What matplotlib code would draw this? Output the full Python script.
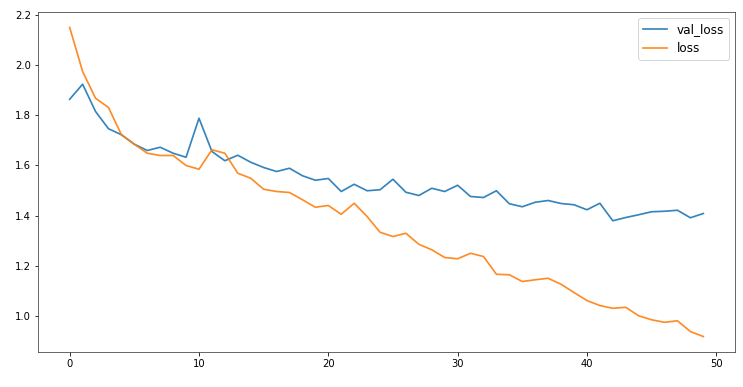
import numpy as np
import matplotlib
matplotlib.use("Agg")
import matplotlib.pyplot as plt

# training history
epochs = np.arange(50)

val_loss = [1.865, 1.925, 1.816, 1.747, 1.723, 1.685, 1.660, 1.673, 1.649, 1.633,
            1.789, 1.656, 1.619, 1.641, 1.613, 1.592, 1.576, 1.589, 1.559, 1.541,
            1.548, 1.496, 1.525, 1.499, 1.503, 1.545, 1.493, 1.480, 1.509, 1.496,
            1.521, 1.476, 1.472, 1.499, 1.447, 1.435, 1.453, 1.460, 1.448, 1.443,
            1.423, 1.449, 1.379, 1.392, 1.403, 1.415, 1.417, 1.421, 1.391, 1.408]

loss = [2.152, 1.976, 1.869, 1.832, 1.723, 1.685, 1.649, 1.640, 1.640, 1.600,
        1.585, 1.663, 1.649, 1.569, 1.549, 1.505, 1.496, 1.492, 1.463, 1.433,
        1.440, 1.405, 1.449, 1.396, 1.333, 1.316, 1.329, 1.285, 1.263, 1.232,
        1.227, 1.249, 1.236, 1.165, 1.163, 1.136, 1.143, 1.149, 1.125, 1.092,
        1.060, 1.040, 1.029, 1.033, 0.999, 0.983, 0.973, 0.979, 0.936, 0.916]

fig = plt.figure(figsize=(743 / 72, 387 / 72), dpi=72)
ax = fig.add_axes([38 / 743, 1 - 352 / 387, (735 - 38) / 743, (352 - 12) / 387])

ax.plot(epochs, val_loss, label="val_loss", lw=1.7, alpha=0.9)
ax.plot(epochs, loss, label="loss", lw=1.7, alpha=0.9)
ax.legend(loc="upper right", fontsize=12)

for s in ax.spines.values():
    s.set_color("#444444")

fig.savefig("out.png", dpi=72)
